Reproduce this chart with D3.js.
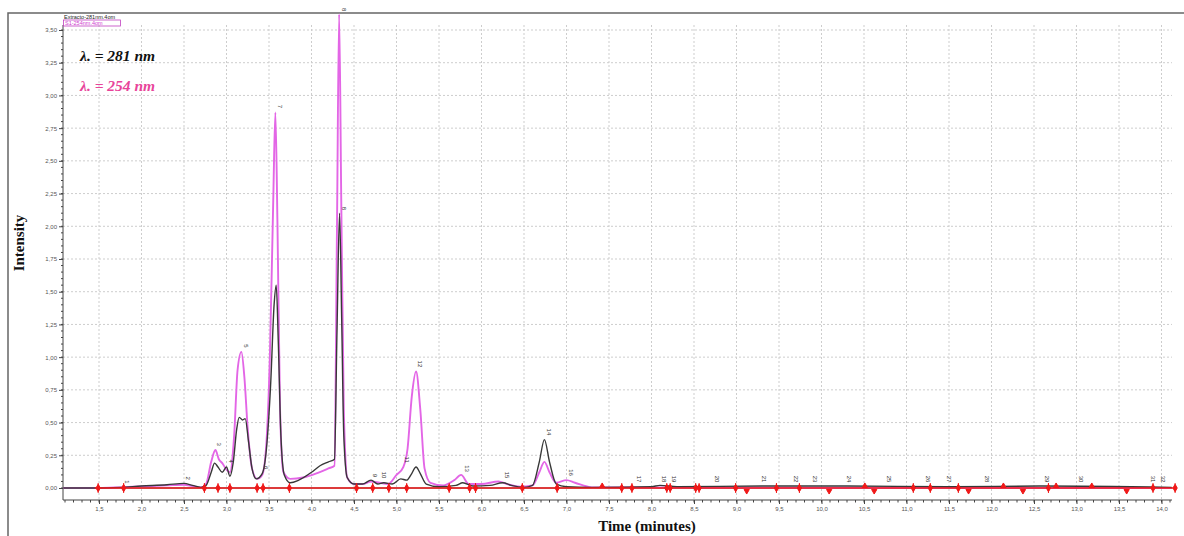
<!DOCTYPE html>
<html>
<head>
<meta charset="utf-8">
<script src="https://cdn.jsdelivr.net/npm/d3@7"></script>
<style>
  body { margin: 0; background: #fff; }
  svg { display: block; }
</style>
</head>
<body>
<div id="chart"></div>
<script>
// chromatogram traces: [time (min), intensity]
const trace281 = [
  [1.08, 0], [1.5, 0], [1.75, 0.005], [2.0, 0.015], [2.3, 0.025], [2.5, 0.035], [2.6, 0.02], [2.7, 0.005],
  [2.76, 0.02], [2.82, 0.12], [2.86, 0.19], [2.9, 0.16], [2.95, 0.12], [3.0, 0.16], [3.04, 0.09], [3.08, 0.2],
  [3.12, 0.45], [3.15, 0.54], [3.19, 0.52], [3.22, 0.53], [3.26, 0.35], [3.3, 0.15], [3.35, 0.07], [3.42, 0.11],
  [3.47, 0.3], [3.52, 0.8], [3.56, 1.4], [3.585, 1.55], [3.61, 1.1], [3.64, 0.4], [3.68, 0.1], [3.75, 0.04],
  [3.85, 0.06], [4.0, 0.12], [4.1, 0.17], [4.2, 0.2], [4.27, 0.22], [4.3, 1.2], [4.33, 2.1], [4.355, 1.3],
  [4.38, 0.4], [4.42, 0.08], [4.5, 0.03], [4.6, 0.03], [4.7, 0.06], [4.78, 0.03], [4.85, 0.04], [4.95, 0.03],
  [5.05, 0.07], [5.12, 0.06], [5.17, 0.1], [5.23, 0.16], [5.28, 0.11], [5.35, 0.03], [5.5, 0.01], [5.7, 0.02],
  [5.78, 0.04], [5.9, 0.015], [6.1, 0.02], [6.25, 0.04], [6.35, 0.02], [6.5, 0.005], [6.6, 0.02], [6.68, 0.2],
  [6.74, 0.37], [6.8, 0.2], [6.88, 0.03], [7.0, 0.01], [7.3, 0.005], [8.0, 0.01], [8.1, 0.02], [8.3, 0.01],
  [9.3, 0.015], [10.3, 0.015], [11.5, 0.01], [12.6, 0.015], [14.12, 0.005]
];

const trace254 = [
  [1.08, 0], [1.5, 0], [1.75, 0.005], [2.0, 0.012], [2.3, 0.02], [2.5, 0.025], [2.6, 0.015], [2.7, 0.005],
  [2.76, 0.03], [2.82, 0.2], [2.87, 0.29], [2.91, 0.22], [2.95, 0.19], [3.0, 0.14], [3.04, 0.12], [3.09, 0.4],
  [3.13, 0.9], [3.175, 1.04], [3.21, 0.85], [3.25, 0.45], [3.3, 0.15], [3.36, 0.07], [3.42, 0.1], [3.47, 0.35],
  [3.51, 1.0], [3.55, 2.2], [3.575, 2.87], [3.6, 2.0], [3.63, 0.6], [3.67, 0.12], [3.75, 0.07], [3.9, 0.08],
  [4.05, 0.11], [4.2, 0.15], [4.27, 0.17], [4.3, 2.0], [4.325, 3.62], [4.35, 2.2], [4.38, 0.6], [4.42, 0.08],
  [4.5, 0.03], [4.6, 0.03], [4.7, 0.05], [4.8, 0.04], [4.9, 0.03], [5.0, 0.1], [5.08, 0.16], [5.13, 0.3],
  [5.18, 0.7], [5.23, 0.89], [5.28, 0.6], [5.33, 0.15], [5.4, 0.04], [5.55, 0.02], [5.68, 0.06], [5.76, 0.1],
  [5.85, 0.03], [6.0, 0.03], [6.2, 0.05], [6.3, 0.03], [6.45, 0.01], [6.6, 0.02], [6.68, 0.12], [6.74, 0.2],
  [6.8, 0.12], [6.88, 0.04], [7.0, 0.06], [7.1, 0.04], [7.3, 0.005], [14.12, 0]
];

// integration markers on the baseline (time, kind)
const markers = [
  [1.49, 'd'], [1.79, 'd'], [2.74, 'd'], [2.9, 'd'], [3.04, 'd'], [3.36, 'd'], [3.43, 'd'], [3.74, 'd'],
  [4.53, 'd'], [4.72, 'd'], [4.91, 'd'], [5.12, 'd'], [5.62, 'd'], [5.86, 'd'], [5.93, 'd'], [6.48, 'd'],
  [6.89, 'd'], [7.42, 'u'], [7.65, 'd'], [7.77, 'd'], [8.18, 'd'], [8.22, 'd'], [8.52, 'd'], [8.56, 'd'],
  [8.99, 'd'], [9.12, 'v'], [9.47, 'd'], [9.74, 'd'], [10.09, 'v'], [10.51, 'u'], [10.62, 'v'], [11.08, 'd'],
  [11.28, 'd'], [11.61, 'd'], [11.73, 'v'], [12.14, 'u'], [12.37, 'v'], [12.67, 'd'], [12.76, 'u'],
  [13.18, 'u'], [13.59, 'v'], [13.9, 'd'], [14.16, 'd']
];

// peak numbers
const peakLabels = [
  [1.78, 0.01, '1'], [2.5, 0.04, '2'], [2.87, 0.3, '3'], [3.0, 0.17, '4'], [3.18, 1.05, '5'], [3.42, 0.12, '6'],
  [3.58, 2.88, '7'], [4.33, 3.62, '8'], [4.34, 2.1, '8'], [4.7, 0.06, '9'], [4.8, 0.05, '10'], [5.08, 0.17, '11'],
  [5.23, 0.9, '12'], [5.78, 0.1, '13'], [6.75, 0.38, '14'], [6.25, 0.05, '15'], [7.0, 0.07, '16'],
  [7.8, 0.02, '17'], [8.1, 0.02, '18'], [8.22, 0.02, '19'], [8.72, 0.02, '20'], [9.28, 0.02, '21'],
  [9.65, 0.02, '22'], [9.88, 0.02, '23'], [10.28, 0.02, '24'], [10.75, 0.02, '25'], [11.2, 0.02, '26'],
  [11.45, 0.02, '27'], [11.9, 0.02, '28'], [12.6, 0.02, '29'], [13.0, 0.02, '30'], [13.85, 0.02, '31'],
  [13.97, 0.02, '32']
];

const yTicks = d3.range(0, 3.51, 0.25);
const xTicks = d3.range(1.5, 14.01, 0.5);

const width = 1184;
const height = 536;

const svg = d3.select('#chart')
  .append('svg')
  .attr('width', width)
  .attr('height', height);

const xScale = d3.scaleLinear().domain([1.5, 14.0]).range([99, 1161.5]);
const yScale = d3.scaleLinear().domain([0, 3.5]).range([488, 30]);

const plotLeft = 63, plotRight = 1172, plotTop = 25, plotBottom = 500;
const fmt = (d) => d3.format('.2f')(d).replace('.', ',');
const fmtX = (d) => d3.format('.1f')(d).replace('.', ',');

// outer frame
svg.append('path')
  .attr('d', `M8,536 V13 H${width}`)
  .attr('fill', 'none')
  .attr('stroke', '#666')
  .attr('stroke-width', 1.5);

// gridlines
svg.append('g')
  .selectAll('line')
  .data(yTicks.filter((d) => d > 0))
  .join('line')
  .attr('x1', plotLeft).attr('x2', plotRight)
  .attr('y1', (d) => yScale(d)).attr('y2', (d) => yScale(d))
  .attr('stroke', '#cdcdcd')
  .attr('stroke-dasharray', '2,2');

svg.append('g')
  .selectAll('line')
  .data(xTicks)
  .join('line')
  .attr('x1', (d) => xScale(d)).attr('x2', (d) => xScale(d))
  .attr('y1', plotTop).attr('y2', plotBottom)
  .attr('stroke', '#cdcdcd')
  .attr('stroke-dasharray', '2,2');

// y axis with minor ticks
const yAxis = d3.axisLeft(yScale).tickValues(yTicks).tickFormat(fmt).tickSize(4).tickPadding(2);
const gy = svg.append('g').attr('transform', `translate(${plotLeft},0)`).call(yAxis);
gy.select('.domain').attr('d', `M0,${plotTop}V${plotBottom}`).attr('stroke', '#444');
gy.selectAll('text').attr('font-size', 6).attr('fill', '#555').attr('font-family', 'Arial, sans-serif');
gy.selectAll('.tick line').attr('stroke', '#444');
gy.append('g')
  .selectAll('line')
  .data(d3.range(0, 3.51, 0.05))
  .join('line')
  .attr('x1', -2).attr('x2', 0)
  .attr('y1', (d) => yScale(d)).attr('y2', (d) => yScale(d))
  .attr('stroke', '#444');

// x axis with minor ticks
const xAxis = d3.axisBottom(xScale).tickValues(xTicks).tickFormat(fmtX).tickSize(4).tickPadding(3);
const gx = svg.append('g').attr('transform', `translate(0,${plotBottom})`).call(xAxis);
gx.select('.domain').attr('d', `M${plotLeft},0H${plotRight}`).attr('stroke', '#444');
gx.selectAll('text').attr('font-size', 6).attr('fill', '#555').attr('font-family', 'Arial, sans-serif');
gx.selectAll('.tick line').attr('stroke', '#444');
gx.append('g')
  .selectAll('line')
  .data(d3.range(1.1, 14.15, 0.1))
  .join('line')
  .attr('x1', (d) => xScale(d)).attr('x2', (d) => xScale(d))
  .attr('y1', 0).attr('y2', 2.5)
  .attr('stroke', '#444');

// zero line
svg.append('line')
  .attr('x1', plotLeft).attr('x2', plotRight)
  .attr('y1', yScale(0)).attr('y2', yScale(0))
  .attr('stroke', '#444')
  .attr('stroke-width', 1);

const line = d3.line()
  .x((d) => xScale(d[0]))
  .y((d) => yScale(d[1]))
  .curve(d3.curveMonotoneX);

svg.append('path')
  .datum(trace254)
  .attr('d', line)
  .attr('fill', 'none')
  .attr('stroke', '#e366e6')
  .attr('stroke-width', 1.9);

svg.append('path')
  .datum(trace281)
  .attr('d', line)
  .attr('fill', 'none')
  .attr('stroke', '#383838')
  .attr('stroke-width', 1.4);

// red baseline and markers
svg.append('line')
  .attr('x1', xScale(1.45)).attr('x2', xScale(14.18))
  .attr('y1', yScale(0)).attr('y2', yScale(0))
  .attr('stroke', '#f01818')
  .attr('stroke-width', 1.4);

const mk = svg.append('g').attr('fill', '#f01818').attr('stroke', '#f01818');
markers.forEach(([t, kind]) => {
  const x = xScale(t), y = yScale(0);
  if (kind === 'd') {
    mk.append('line').attr('x1', x).attr('x2', x).attr('y1', y - 5).attr('y2', y + 5).attr('stroke-width', 1);
    mk.append('path').attr('d', d3.symbol(d3.symbolDiamond, 16)()).attr('transform', `translate(${x},${y})`);
  } else if (kind === 'u') {
    mk.append('path').attr('d', d3.symbol(d3.symbolTriangle, 12)()).attr('transform', `translate(${x},${y - 2})`);
  } else {
    mk.append('path').attr('d', d3.symbol(d3.symbolTriangle, 12)()).attr('transform', `translate(${x},${y + 3}) rotate(180)`);
  }
});

// peak labels
svg.append('g')
  .selectAll('text')
  .data(peakLabels)
  .join('text')
  .attr('transform', (d) => `translate(${xScale(d[0]) + 2},${yScale(d[1]) - 3}) rotate(90)`)
  .attr('text-anchor', 'end')
  .attr('font-size', 6)
  .attr('font-family', 'Arial, sans-serif')
  .attr('fill', '#333')
  .text((d) => d[2]);

// file legend, top-left
svg.append('text')
  .attr('x', 64).attr('y', 18.5)
  .attr('font-size', 5.5).attr('font-family', 'Arial, sans-serif').attr('fill', '#222')
  .text('Extracto-281nm.4om');
svg.append('rect')
  .attr('x', 63.5).attr('y', 20).attr('width', 57).attr('height', 6)
  .attr('fill', 'none').attr('stroke', '#c040c0').attr('stroke-width', 0.8);
svg.append('text')
  .attr('x', 65).attr('y', 25)
  .attr('font-size', 5.5).attr('font-family', 'Arial, sans-serif').attr('fill', '#d040d0')
  .text('S1-254nm.4om');

// wavelength annotations
svg.append('text')
  .attr('x', 80).attr('y', 61)
  .attr('font-family', '"Liberation Serif", serif')
  .attr('font-size', 15.5).attr('font-weight', 'bold').attr('font-style', 'italic')
  .attr('fill', '#111')
  .text('λ.  = 281 nm');
svg.append('text')
  .attr('x', 80).attr('y', 91)
  .attr('font-family', '"Liberation Serif", serif')
  .attr('font-size', 15.5).attr('font-weight', 'bold').attr('font-style', 'italic')
  .attr('fill', '#e8449a')
  .text('λ.  = 254 nm');

// axis titles
svg.append('text')
  .attr('transform', 'translate(24,243) rotate(-90)')
  .attr('text-anchor', 'middle')
  .attr('font-family', '"Liberation Serif", serif')
  .attr('font-size', 15).attr('font-weight', 'bold')
  .attr('fill', '#111')
  .text('Intensity');
svg.append('text')
  .attr('x', 647).attr('y', 531)
  .attr('text-anchor', 'middle')
  .attr('font-family', '"Liberation Serif", serif')
  .attr('font-size', 15).attr('font-weight', 'bold')
  .attr('fill', '#111')
  .text('Time (minutes)');
</script>
</body>
</html>
